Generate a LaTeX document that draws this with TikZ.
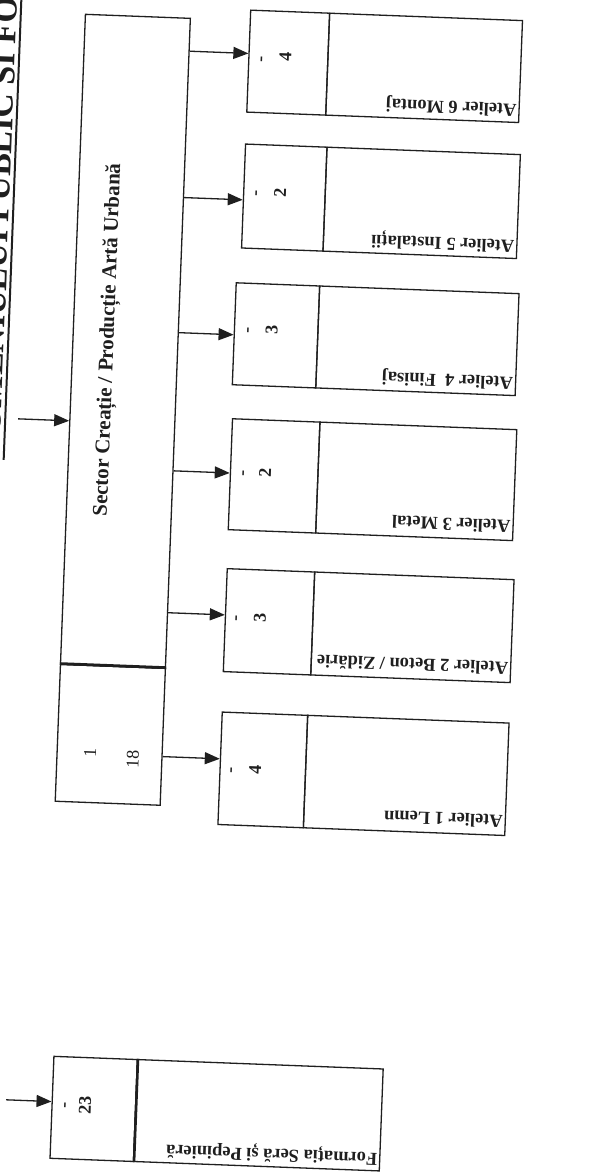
\documentclass[tikz,border=0pt]{standalone}
\usepackage{fontspec}
\setmainfont{Liberation Serif}
\usetikzlibrary{arrows.meta,calc}
\definecolor{ink}{gray}{0.12}
\begin{document}
\begin{tikzpicture}[x=1pt,y=-1pt,
  box/.style={draw=ink, line width=1.3pt, rectangle, inner sep=0pt, anchor=north west},
  lbl/.style={inner sep=0pt, text=ink, font=\fontsize{18.4}{20}\selectfont\bfseries, rotate=180, anchor=west},
  num/.style={inner sep=0pt, text=ink, font=\fontsize{18}{20}\selectfont\bfseries, rotate=90},
  cnt/.style={inner sep=0pt, text=ink, font=\fontsize{18}{20}\selectfont, rotate=90},
  arr/.style={draw=ink, line width=1.3pt, -{Triangle[length=15pt,width=12pt]}},
  thickdiv/.style={draw=ink, line width=2.8pt},
]
\useasboundingbox (0,0) rectangle (610,1172);
\clip (0,0) rectangle (610,1172);
\fill[white] (0,0) rectangle (610,1172);
\begin{scope}[rotate around={-2.2:(305,586)}, transform shape]
  % header (cut at page edge)
  \node[rotate=90, anchor=base west, inner sep=0pt, text=ink,
        font=\fontsize{34}{36}\selectfont\bfseries] (hdr) at (-5,471) {DOMENIULUI PUBLIC SI FO};
  \draw[ink, line width=2pt] (hdr.south west) ++(3.5,0.6) coordinate (ul1) -- (ul1 |- 0,-30);

  % sector box and count box
  \node[box, minimum width=105pt, minimum height=650.5pt] (sector) at (63,22.5) {};
  \node[box, minimum width=105pt, minimum height=137pt] (count) at (63,673) {};
  \draw[thickdiv] (count.north west) -- (count.north east);
  \node[inner sep=0pt, text=ink, rotate=90, font=\fontsize{21}{24}\selectfont\bfseries] (sectorlbl) at (99.5,347.7) {Sector Creație / Producție Artă Urbană};
  \node[cnt] (c1) at (96.6,760.8) {1};
  \node[cnt] (c18) at (139.5,765.5) {18};

  % input arrow to sector
  \coordinate (inS) at (12,430);
  \draw[arr] (inS) -- (sector.west |- inS);

  % Atelier 6
  \node[box, minimum width=79pt, minimum height=102pt] (a6n) at (228,12) {};
  \node[box, minimum width=193pt, minimum height=102pt] (a6l) at (307,12) {};
  \node[num] (a6d) at (243,61) {-};
  \node[num] (a6v) at (265,58) {4};
  \node[lbl] (a6t) at ($(a6l.south east)+(-3,-14.5)$) {Atelier 6 Montaj};
  % Atelier 5
  \node[box, minimum width=81.5pt, minimum height=104pt] (a5n) at (228,146) {};
  \node[box, minimum width=193.5pt, minimum height=104pt] (a5l) at (309.5,146) {};
  \node[num] (a5d) at (243,195) {-};
  \node[num] (a5v) at (265,194.3) {2};
  \node[lbl] (a5t) at ($(a5l.south east)+(-3,-14.5)$) {Atelier 5 Instalații};
  % Atelier 4
  \node[box, minimum width=83.5pt, minimum height=102pt] (a4n) at (224,285) {};
  \node[box, minimum width=199.5pt, minimum height=102pt] (a4l) at (307.5,285) {};
  \node[num] (a4d) at (240,332.3) {-};
  \node[num] (a4v) at (262,331.5) {3};
  \node[lbl] (a4t) at ($(a4l.south east)+(-3,-14.5)$) {Atelier 4~~Finisaj};
  % Atelier 3
  \node[box, minimum width=87.5pt, minimum height=111pt] (a3n) at (225.5,421) {};
  \node[box, minimum width=197pt, minimum height=111pt] (a3l) at (313,421) {};
  \node[num] (a3d) at (240.7,475.4) {-};
  \node[num] (a3v) at (260.7,474.6) {2};
  \node[lbl] (a3t) at ($(a3l.south east)+(-3,-14.5)$) {Atelier 3 Metal};
  % Atelier 2
  \node[box, minimum width=87.5pt, minimum height=103pt] (a2n) at (226,571) {};
  \node[box, minimum width=199.5pt, minimum height=103pt] (a2l) at (313.5,571) {};
  \node[num] (a2d) at (239.3,620.5) {-};
  \node[num] (a2v) at (261.3,619.7) {3};
  \node[lbl] (a2t) at ($(a2l.south east)+(-3,-14.5)$) {Atelier 2 Beton / Zidărie};
  % Atelier 1
  \node[box, minimum width=85.5pt, minimum height=112.5pt] (a1n) at (226.5,714.5) {};
  \node[box, minimum width=201.5pt, minimum height=112.5pt] (a1l) at (312,714.5) {};
  \node[num] (a1d) at (240.1,772.6) {-};
  \node[num] (a1v) at (262.1,771.8) {4};
  \node[lbl] (a1t) at ($(a1l.south east)+(-3,-14.5)$) {Atelier 1 Lemn};

  % arrows sector -> ateliers
  \coordinate (y6) at (0,56);
  \coordinate (y5) at (0,202.5);
  \coordinate (y4) at (0,337.7);
  \coordinate (y3) at (0,476);
  \coordinate (y2) at (0,618);
  \coordinate (y1) at (0,762);
  \draw[arr] (sector.east |- y6) -- (a6n.west |- y6);
  \draw[arr] (sector.east |- y5) -- (a5n.west |- y5);
  \draw[arr] (sector.east |- y4) -- (a4n.west |- y4);
  \draw[arr] (sector.east |- y3) -- (a3n.west |- y3);
  \draw[arr] (sector.east |- y2) -- (a2n.west |- y2);
  \draw[arr] (count.east |- y1) -- (a1n.west |- y1);

  % Formatia
  \node[box, minimum width=83.5pt, minimum height=102pt] (fn) at (71.5,1065) {};
  \node[box, minimum width=246pt, minimum height=102pt] (fl) at (155,1065) {};
  \draw[ink, line width=2.5pt] (fn.north east) -- (fn.south east);
  \node[num] (fd) at (86.8,1113.8) {-};
  \node[num] (fv) at (105.1,1113.1) {23};
  \node[lbl] (ft) at ($(fl.south east)+(-3,-14)$) {Formația Seră și Pepinieră};
  \coordinate (inF) at (26,1111);
  \draw[arr] (inF) -- (fn.west |- inF);
\end{scope}
\end{tikzpicture}
\end{document}
